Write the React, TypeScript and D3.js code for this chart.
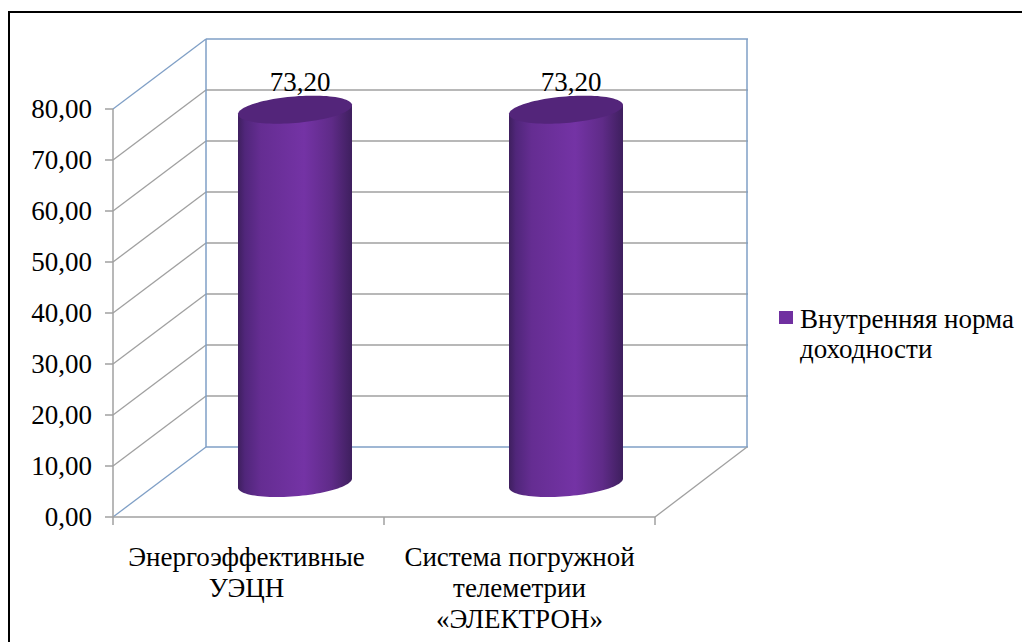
import React from "react";
import * as d3 from "d3";

const categories = [["Энергоэффективные", "УЭЦН"], ["Система погружной", "телеметрии", "«ЭЛЕКТРОН»"]];
const seriesName = ["Внутренняя норма", "доходности"];
const values = [73.2, 73.2];
const yTicks = [0, 10, 20, 30, 40, 50, 60, 70, 80];

const FONT = "'Liberation Serif', serif";
const GRID = "#a0a0a0";
const WALL = "#7f9fc6";
const depthX = 93;
const depthY = 70;
const FONT_SIZE = 27;

const comma = (v: number) => v.toFixed(2).replace(".", ",");

export default function App() {
  const y = d3.scaleLinear().domain([0, 80]).range([517, 109]);
  const x = d3.scaleBand<number>().domain(d3.range(categories.length)).range([113, 655]);
  const a = 57;
  const b = 13.3;
  const skew = 4.5;
  const angles = d3.range(0, 2 * Math.PI + 0.01, Math.PI / 48);
  const ring = d3.line<number>()
    .x((t) => a * Math.cos(t))
    .y((t) => -skew * Math.cos(t) + b * Math.sin(t));
  const side = (cx: number, top: number, bottom: number) => {
    const lower = d3.range(0, Math.PI + 0.01, Math.PI / 48).map((t) => [
      cx + a * Math.cos(t),
      bottom - skew * Math.cos(t) + b * Math.sin(t),
    ] as [number, number]);
    return (
      d3.line()(lower) + `L${cx - a},${top + skew}L${cx + a},${top - skew}Z`
    );
  };

  return (
    <svg
      width={1022}
      height={642}
      style={{ position: "absolute", left: 0, top: 0, background: "#fff" }}
      fontFamily={FONT}
      fill="#000"
    >
      <defs>
        <linearGradient id="cyl" x1="0" x2="1" y1="0" y2="0">
          <stop offset="0" stopColor="#3e1f5e" />
          <stop offset="0.06" stopColor="#50267a" />
          <stop offset="0.2" stopColor="#652d92" />
          <stop offset="0.58" stopColor="#7433a5" />
          <stop offset="0.82" stopColor="#5f2b88" />
          <stop offset="1" stopColor="#3e1f5e" />
        </linearGradient>
      </defs>
      <rect x={9} y={12} width={1030} height={660} fill="none" stroke="#000" strokeWidth={2} />

      {/* back wall and side wall grid */}
      {yTicks.map((t) => (
        <g key={t} stroke={t === 0 || t === 80 ? WALL : GRID} strokeWidth={1.3} fill="none">
          <line x1={x.range()[0] + depthX} x2={x.range()[1] + depthX} y1={y(t) - depthY} y2={y(t) - depthY} />
          <line x1={x.range()[0]} x2={x.range()[0] + depthX} y1={y(t)} y2={y(t) - depthY} />
        </g>
      ))}
      <line x1={206} x2={206} y1={y(80) - depthY} y2={y(0) - depthY} stroke={WALL} strokeWidth={1.5} />
      <line x1={747} x2={747} y1={y(80) - depthY} y2={y(0) - depthY} stroke={WALL} strokeWidth={1.5} />
      <line x1={655} x2={747} y1={517} y2={447} stroke={GRID} strokeWidth={1.3} />

      {/* axes */}
      <line x1={113} x2={113} y1={y(80)} y2={y(0)} stroke={GRID} strokeWidth={1.5} />
      <line x1={113} x2={655} y1={517} y2={517} stroke={GRID} strokeWidth={1.5} />
      {yTicks.map((t) => (
        <g key={t}>
          <line x1={105} x2={113} y1={y(t)} y2={y(t)} stroke={GRID} strokeWidth={1.5} />
          <text x={92} y={y(t) + 9} fontSize={FONT_SIZE} textAnchor="end">{comma(t)}</text>
        </g>
      ))}
      {[113, 384, 655].map((tx) => (
        <line key={tx} x1={tx} x2={tx} y1={517} y2={525} stroke={GRID} strokeWidth={1.5} />
      ))}

      {/* cylinders */}
      {values.map((v, i) => {
        const cx = x(i)! + x.bandwidth() / 2 + depthX / 2;
        const bottom = y(0) - depthY / 2 + 1;
        const top = y(v) - depthY / 2 + 1;
        return (
          <g key={i}>
            <path d={side(cx, top, bottom)} fill="url(#cyl)" />
            <path d={ring(angles)!} transform={`translate(${cx},${top})`} fill="#53257a" />
            <text x={cx + 5} y={91} fontSize={FONT_SIZE} textAnchor="middle">{comma(v)}</text>
          </g>
        );
      })}

      {/* category labels */}
      {categories.map((lines, i) => (
        <text key={i} fontSize={FONT_SIZE} textAnchor="middle">
          {lines.map((l, j) => (
            <tspan key={j} x={x(i)! + x.bandwidth() / 2 - (i === 0 ? 2 : 0)} y={566 + j * 31}>{l}</tspan>
          ))}
        </text>
      ))}

      {/* legend */}
      <rect x={779} y={311} width={14} height={13} fill="#7030a0" />
      <text fontSize={FONT_SIZE}>
        {seriesName.map((l, j) => (
          <tspan key={j} x={800} y={328 + j * 30}>{l}</tspan>
        ))}
      </text>
    </svg>
  );
}
